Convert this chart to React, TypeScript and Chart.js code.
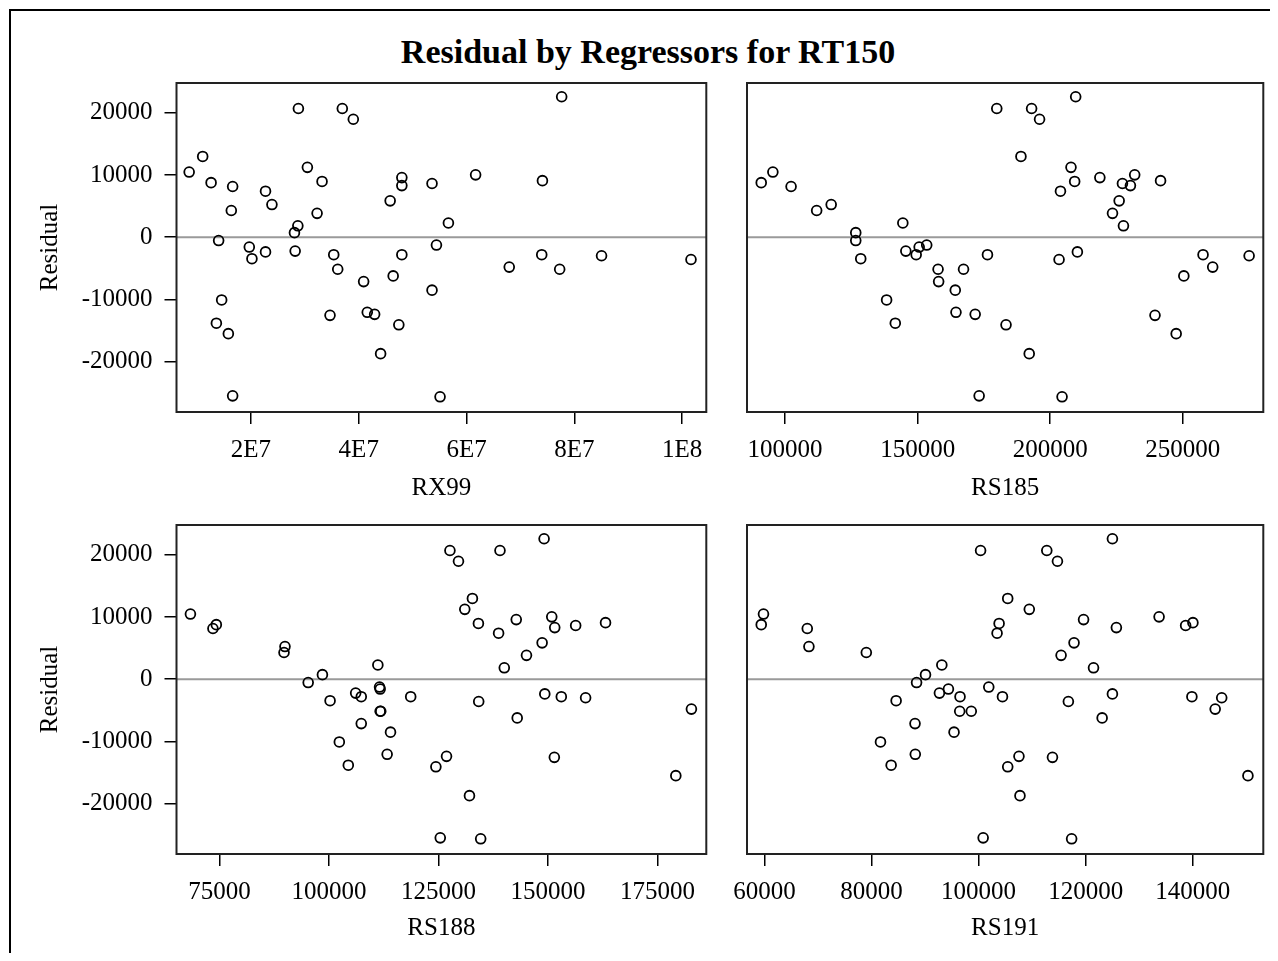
import { useEffect, useRef } from 'react';
import { Chart, registerables } from 'chart.js';

Chart.register(...registerables);

const FONT = '"Liberation Serif", "Times New Roman", Times, serif';

// Residual of each observation (shared by all four panels)
const residual = [
  10480, 12990, 8780, 8160, 4300, -530, -10080, -13820, -15500, -25500,
  -1580, -3450, 7400, 5260, -2360, 20700, 740, 1840, -2230, 11240,
  8970, 3840, 20700, 18970, -2810, -5150, -12560, -7130, -12070, -12400,
  -18720, 5850, 9590, 8300, -2810, -6220, -14080, 8640, -1260, -8510,
  -25660, 10030, 2290, 9100, 22590, -4800, -2810, -5150, -2980, -3580,
];

// Regressor values, same observation order
const rx99 = [
  8530000, 11040000, 12600000, 16600000, 16350000, 14000000, 14560000, 13580000, 15800000, 16600000,
  19690000, 20180000, 22700000, 23890000, 22700000, 28800000, 28070000, 28700000, 28200000, 30470000,
  33190000, 32270000, 36950000, 38990000, 35360000, 36100000, 34670000, 40910000, 41580000, 42950000,
  44060000, 45830000, 48000000, 48000000, 48000000, 46390000, 47440000, 53600000, 54420000, 53600000,
  55090000, 61690000, 56640000, 74090000, 77660000, 67930000, 73960000, 77290000, 85060000, 101660000,
];
const rs185 = [
  95380, 188970, 90990, 102250, 111900, 126650, 138290, 141560, 247530, 173200,
  150570, 128530, 203880, 117380, 210260, 179850, 126650, 227640, 145540, 207850,
  209240, 223510, 192990, 195990, 149440, 157700, 239540, 157920, 164460, 171700,
  192090, 226020, 218740, 230270, 176340, 250420, 183340, 227260, 153420, 164190,
  204480, 231880, 144410, 241640, 209620, 261310, 257670, 167310, 275050, 203350,
];
const rs188 = [
  68340, 132730, 74250, 73480, 89710, 95230, 102340, 104390, 179180, 125390,
  111660, 100230, 138710, 89930, 149260, 127600, 98480, 140010, 106070, 130990,
  134100, 145080, 139030, 129550, 107350, 111660, 151440, 107350, 113260, 126820,
  132060, 148650, 142740, 151530, 118640, 142960, 124390, 156310, 111530, 114030,
  134620, 150850, 111140, 163130, 149100, 182740, 153030, 111800, 158580, 134170,
];
const rs191 = [
  59810, 105440, 59390, 67990, 79020, 88410, 81670, 83660, 150320, 100850,
  94360, 84590, 103450, 68300, 125000, 100370, 90080, 121470, 92680, 109470,
  103830, 115410, 112740, 114730, 96530, 96470, 113800, 88120, 88170, 107540,
  107730, 117830, 119610, 125740, 104460, 123080, 105440, 138680, 101900, 95410,
  117380, 133720, 93130, 140040, 125000, 144200, 139850, 98630, 145420, 116770,
];

// Tick values and labels
const yTicks = [-20000, -10000, 0, 10000, 20000];
const yTickLabels = ['-20000', '-10000', '0', '10000', '20000'];
const rx99Ticks = [20000000, 40000000, 60000000, 80000000, 100000000];
const rx99TickLabels = ['2E7', '4E7', '6E7', '8E7', '1E8'];
const rs185Ticks = [100000, 150000, 200000, 250000];
const rs185TickLabels = ['100000', '150000', '200000', '250000'];
const rs188Ticks = [75000, 100000, 125000, 150000, 175000];
const rs188TickLabels = ['75000', '100000', '125000', '150000', '175000'];
const rs191Ticks = [60000, 80000, 100000, 120000, 140000];
const rs191TickLabels = ['60000', '80000', '100000', '120000', '140000'];

const titleText = 'Residual by Regressors for RT150';
const yTitle = 'Residual';

type PanelSpec = {
  xs: number[];
  xTicks: number[];
  xLabels: string[];
  xTitle: string;
  xMin: number;
  xMax: number;
  showY: boolean;
  left: number;
  top: number;
  w: number;
  h: number;
  padL: number;
  padT: number;
  padR: number;
  yAxisW: number;
  xAxisH: number;
};

const framePlugin = {
  id: 'frameBox',
  beforeDatasetsDraw(chart: any) {
    const { ctx, chartArea, scales } = chart;
    const y0 = scales.y.getPixelForValue(0);
    ctx.save();
    ctx.strokeStyle = '#9a9a9a';
    ctx.lineWidth = 2;
    ctx.beginPath();
    ctx.moveTo(chartArea.left, y0);
    ctx.lineTo(chartArea.right, y0);
    ctx.stroke();
    ctx.restore();
  },
  afterDraw(chart: any) {
    const { ctx, chartArea } = chart;
    ctx.save();
    ctx.strokeStyle = '#222';
    ctx.lineWidth = 2;
    ctx.strokeRect(chartArea.left, chartArea.top, chartArea.right - chartArea.left, chartArea.bottom - chartArea.top);
    ctx.restore();
  },
};

const TICK_SIZE = 25;

function Panel({ spec }: { spec: PanelSpec }) {
  const ref = useRef<HTMLCanvasElement>(null);
  useEffect(() => {
    const font = { family: FONT, size: TICK_SIZE, weight: 'normal' as const };
    const chart = new Chart(ref.current as HTMLCanvasElement, {
      type: 'scatter',
      data: {
        datasets: [
          {
            data: spec.xs.map((x, i) => ({ x, y: residual[i] })),
            pointStyle: 'circle',
            pointRadius: 4.9,
            pointBorderWidth: 1.8,
            pointBorderColor: '#000',
            pointBackgroundColor: 'rgba(0,0,0,0)',
            borderColor: '#000',
            backgroundColor: 'rgba(0,0,0,0)',
            showLine: false,
          } as any,
        ],
      },
      options: {
        animation: false,
        responsive: false,
        maintainAspectRatio: false,
        events: [],
        layout: { padding: { left: spec.padL, top: spec.padT, right: spec.padR, bottom: 0 } },
        plugins: { legend: { display: false }, tooltip: { enabled: false }, title: { display: false } },
        scales: {
          x: {
            type: 'linear',
            position: 'bottom',
            min: spec.xMin,
            max: spec.xMax,
            afterBuildTicks: (s: any) => {
              s.ticks = spec.xTicks.map((v) => ({ value: v }));
            },
            afterFit: (s: any) => {
              s.height = spec.xAxisH;
              s.paddingLeft = 0;
              s.paddingRight = 0;
            },
            ticks: {
              autoSkip: false,
              maxRotation: 0,
              minRotation: 0,
              padding: 11,
              color: '#000',
              font,
              callback: (_v: any, i: number) => spec.xLabels[i],
            },
            grid: { display: true, drawOnChartArea: false, drawTicks: true, tickLength: 12, color: '#000', lineWidth: 1.5 },
            border: { display: false },
            title: { display: true, text: spec.xTitle, color: '#000', font, padding: { top: 0, bottom: 4 } },
          },
          y: {
            type: 'linear',
            position: 'left',
            display: spec.showY,
            min: -28100,
            max: 24800,
            afterBuildTicks: (s: any) => {
              s.ticks = yTicks.map((v) => ({ value: v }));
            },
            afterFit: (s: any) => {
              s.width = spec.yAxisW;
              s.paddingTop = 0;
              s.paddingBottom = 0;
            },
            ticks: {
              autoSkip: false,
              padding: 12,
              color: '#000',
              font,
              callback: (_v: any, i: number) => yTickLabels[i],
            },
            grid: { display: true, drawOnChartArea: false, drawTicks: true, tickLength: 12, color: '#000', lineWidth: 1.5 },
            border: { display: false },
            title: { display: true, text: yTitle, color: '#000', font, padding: { top: 0, bottom: 0 } },
          },
        },
      } as any,
      plugins: [framePlugin],
    });
    return () => chart.destroy();
  }, [spec]);
  return (
    <canvas
      ref={ref}
      width={spec.w}
      height={spec.h}
      style={{ position: 'absolute', left: spec.left, top: spec.top, width: spec.w, height: spec.h }}
    />
  );
}

const panels: PanelSpec[] = [
  {
    xs: rx99, xTicks: rx99Ticks, xLabels: rx99TickLabels, xTitle: 'RX99', xMin: 6180000, xMax: 104500000,
    showY: true, left: 27, top: 65, w: 678, h: 434, padL: 0, padT: 10, padR: 4, yAxisW: 141.5, xAxisH: 95,
  },
  {
    xs: rs185, xTicks: rs185Ticks, xLabels: rs185TickLabels, xTitle: 'RS185', xMin: 85620, xMax: 280400,
    showY: false, left: 712, top: 65, w: 550, h: 434, padL: 27, padT: 10, padR: 4, yAxisW: 0, xAxisH: 95,
  },
  {
    xs: rs188, xTicks: rs188Ticks, xLabels: rs188TickLabels, xTitle: 'RS188', xMin: 65160, xMax: 186140,
    showY: true, left: 27, top: 507, w: 678, h: 432, padL: 0, padT: 10, padR: 4, yAxisW: 141.5, xAxisH: 93,
  },
  {
    xs: rs191, xTicks: rs191Ticks, xLabels: rs191TickLabels, xTitle: 'RS191', xMin: 56730, xMax: 153190,
    showY: false, left: 712, top: 507, w: 550, h: 432, padL: 27, padT: 10, padR: 4, yAxisW: 0, xAxisH: 93,
  },
];

export default function App() {
  return (
    <div style={{ position: 'relative', width: 1262, height: 945, background: '#fff' }}>
      <div
        style={{
          position: 'absolute', left: 1, top: 1, width: 1261, height: 944,
          borderLeft: '2px solid #000', borderTop: '2px solid #000', boxSizing: 'border-box',
        }}
      />
      <div
        style={{
          position: 'absolute', left: 140, top: 24, width: 1000, textAlign: 'center',
          fontFamily: FONT, fontWeight: 'bold', fontSize: 34, lineHeight: '40px', color: '#000',
        }}
      >
        {titleText}
      </div>
      {panels.map((p, i) => (
        <Panel key={i} spec={p} />
      ))}
    </div>
  );
}
